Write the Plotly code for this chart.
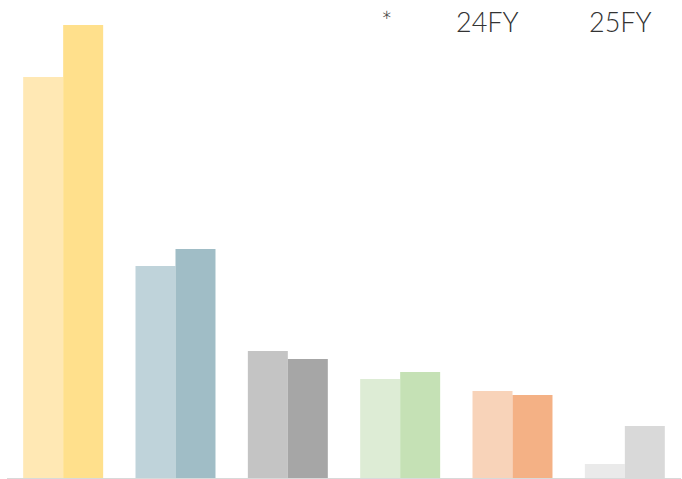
import plotly.graph_objects as go

categories = ["A", "B", "C", "D", "E", "F"]
fy24_values = [401, 212, 127, 99, 87, 14]
fy25_values = [453, 229, 119, 106, 83, 52]
fy24_colors = ["#FFE8B4", "#BFD3DA", "#C4C4C4", "#DDECD5", "#F8D3B9", "#EAEAEA"]
fy25_colors = ["#FFE08C", "#A0BDC6", "#A6A6A6", "#C5E1B5", "#F4B185", "#D9D9D9"]
legend_labels = ["*", "24FY", "25FY"]

fig = go.Figure()
fig.add_trace(go.Bar(x=categories, y=fy24_values, name="24FY",
                     marker=dict(color=fy24_colors, line=dict(width=0))))
fig.add_trace(go.Bar(x=categories, y=fy25_values, name="25FY",
                     marker=dict(color=fy25_colors, line=dict(width=0))))

fig.update_layout(
    width=682, height=479,
    margin=dict(l=7, r=1, t=0, b=1),
    barmode="group", bargap=0.288, bargroupgap=0,
    showlegend=False,
    plot_bgcolor="white", paper_bgcolor="white",
    xaxis=dict(showticklabels=False, showgrid=False, zeroline=False,
               showline=True, linecolor="#D9D9D9", linewidth=2, ticks=""),
    yaxis=dict(range=[0, 478], showticklabels=False, showgrid=False,
               zeroline=False, showline=False, fixedrange=True),
)

positions = [(386, 20), (487, 22), (620, 22)]
for label, (px, py) in zip(legend_labels, positions):
    fig.add_annotation(
        text=label, xref="paper", yref="paper",
        x=(px - 7) / 674, y=1 - (py) / 478,
        xanchor="center", yanchor="middle", showarrow=False,
        font=dict(family="Lato", size=27, color="#333333", weight=300),
    )

fig.write_html("out.html", config={"displayModeBar": False},
               post_script="document.body.style.margin='0';document.body.style.overflow='hidden';")
